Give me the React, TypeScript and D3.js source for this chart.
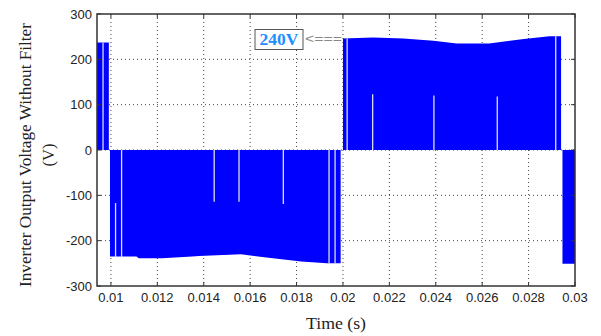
import React from "react";
import * as d3 from "d3";

const W = 601;
const H = 336;

// x ticks (s) and y ticks (V)
const xTicks = [0.01, 0.012, 0.014, 0.016, 0.018, 0.02, 0.022, 0.024, 0.026, 0.028, 0.03];
const yTicks = [300, 200, 100, 0, -100, -200, -300];

// PWM envelope blocks: [time (s), voltage (V)]
const posBlock1: [number, number][] = [[0.0094, 237], [0.00991, 237]];
const negBlock1: [number, number][] = [
  [0.00996, -235], [0.0111, -235], [0.0112, -239], [0.0122, -239], [0.0135, -235],
  [0.0138, -234], [0.0156, -230], [0.0167, -237], [0.0182, -246], [0.0193, -250], [0.0199, -250],
];
const posBlock2: [number, number][] = [
  [0.02, 246], [0.0213, 248], [0.0226, 246], [0.0239, 241], [0.0249, 235],
  [0.0263, 235], [0.0278, 245], [0.0289, 251], [0.0294, 251],
];
const negBlock2: [number, number][] = [[0.02946, -251], [0.0300, -251]];
const blocks = [posBlock1, negBlock1, posBlock2, negBlock2];

// gaps between pulses: [time, from V, to V]
const gapTimes = [0.00966, 0.0102, 0.01046, 0.01445, 0.01552, 0.01743, 0.0194, 0.01966, 0.02018, 0.02128, 0.02392, 0.02665, 0.02917];
const gapFrom = [0, -117, 0, 0, 0, 0, 0, 0, 0, 123, 120, 118, 0];
const gapTo = [237, -237, -237, -114, -114, -119, -250, -250, 246, 0, 0, 0, 251];

const annotationText = "240V";
const arrowText = "<===";

export default function App() {
  const left = 97, right = 575, top = 14, bottom = 286;
  const x = d3.scaleLinear().domain([0.0094, 0.03]).range([left, right]);
  const y = d3.scaleLinear().domain([-300, 300]).range([bottom, top]);
  const area = d3
    .area<[number, number]>()
    .x((d) => x(d[0]))
    .y0(() => y(0))
    .y1((d) => y(d[1]));

  return (
    <svg
      width={W}
      height={H}
      style={{ position: "absolute", left: 0, top: 0, background: "#fff" }}
    >
      <rect x={0} y={0} width={W} height={H} fill="#fff" />
      {/* grid */}
      <g stroke="#444" strokeWidth={1} strokeDasharray="1,3">
        {xTicks.slice(0, -1).map((t) => (
          <line key={"gx" + t} x1={x(t)} x2={x(t)} y1={top} y2={bottom} />
        ))}
        {yTicks.slice(1, -1).map((v) => (
          <line key={"gy" + v} x1={left} x2={right} y1={y(v)} y2={y(v)} />
        ))}
      </g>
      {/* waveform */}
      {blocks.map((b, i) => (
        <path key={"b" + i} d={area(b) || ""} fill="#0000ff" />
      ))}
      {gapTimes.map((t, i) => (
        <line
          key={"gap" + i}
          x1={x(t)}
          x2={x(t)}
          y1={y(gapFrom[i])}
          y2={y(gapTo[i])}
          stroke="#dcdcff"
          strokeWidth={1.3}
        />
      ))}
      {/* ticks */}
      <g stroke="#333" strokeWidth={1}>
        {xTicks.map((t) => (
          <g key={"tx" + t}>
            <line x1={x(t)} x2={x(t)} y1={bottom} y2={bottom - 4} />
            <line x1={x(t)} x2={x(t)} y1={top} y2={top + 4} />
          </g>
        ))}
        {yTicks.map((v) => (
          <g key={"ty" + v}>
            <line x1={left} x2={left + 4} y1={y(v)} y2={y(v)} />
            <line x1={right} x2={right - 4} y1={y(v)} y2={y(v)} />
          </g>
        ))}
      </g>
      {/* frame */}
      <rect
        x={left}
        y={top}
        width={right - left}
        height={bottom - top}
        fill="none"
        stroke="#333"
        strokeWidth={1.5}
      />
      {/* tick labels */}
      <g fontFamily="Liberation Sans, Arial, sans-serif" fontSize={13} fill="#222">
        {xTicks.map((t) => (
          <text key={"lx" + t} x={x(t)} y={bottom + 16} textAnchor="middle">
            {String(t)}
          </text>
        ))}
        {yTicks.map((v) => (
          <text key={"ly" + v} x={left - 5} y={y(v) + 4.5} textAnchor="end">
            {String(v)}
          </text>
        ))}
      </g>
      {/* axis titles */}
      <g fontFamily="Liberation Serif, Times New Roman, serif" fontSize={16.5} fill="#222">
        <text x={(left + right) / 2} y={329} textAnchor="middle" textLength={60} lengthAdjust="spacingAndGlyphs">
          Time (s)
        </text>
        <text
          transform={`translate(31,${155}) rotate(-90)`}
          textAnchor="middle"
          textLength={264}
          lengthAdjust="spacingAndGlyphs"
        >
          Inverter Output Voltage Without Filter
        </text>
        <text transform={`translate(54,${155}) rotate(-90)`} textAnchor="middle">
          (V)
        </text>
      </g>
      {/* annotation */}
      <rect x={255} y={29.5} width={48} height={20} fill="#fff" stroke="#555" strokeWidth={1} />
      <text
        x={279}
        y={45}
        textAnchor="middle"
        fontFamily="Liberation Serif, Times New Roman, serif"
        fontWeight="bold"
        fontSize={17.5}
        fill="#1e8fff"
        textLength={39}
        lengthAdjust="spacingAndGlyphs"
      >
        {annotationText}
      </text>
      <text
        x={305}
        y={43}
        fontFamily="Liberation Sans, Arial, sans-serif"
        fontSize={12}
        fill="#888"
        textLength={37}
        lengthAdjust="spacingAndGlyphs"
      >
        {arrowText}
      </text>
    </svg>
  );
}
